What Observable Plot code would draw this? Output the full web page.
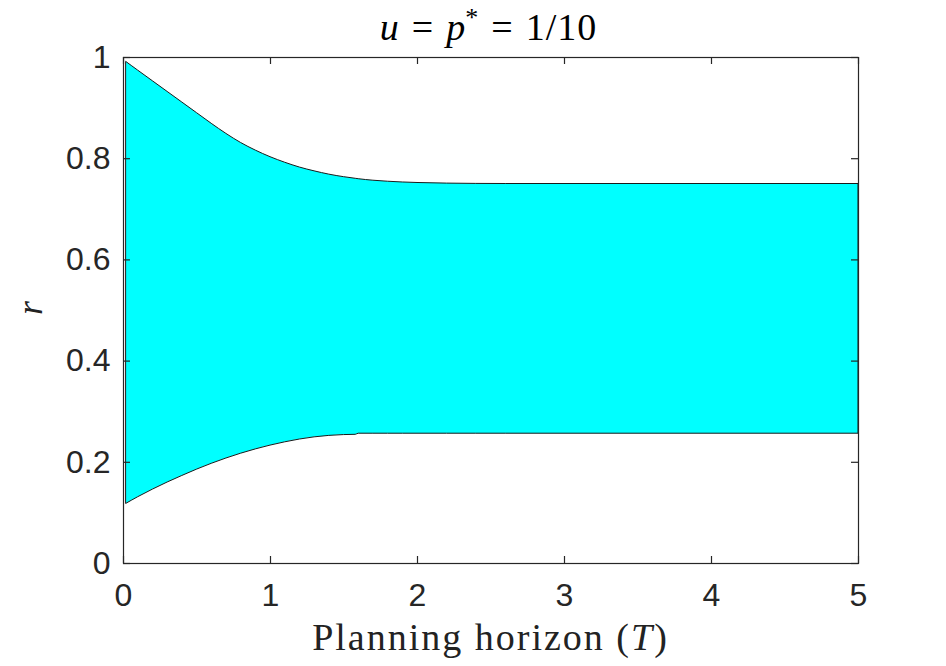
<!DOCTYPE html>
<html>
<head>
<meta charset="utf-8">
<script src="https://cdn.jsdelivr.net/npm/d3@7"></script>
<script src="https://cdn.jsdelivr.net/npm/@observablehq/plot@0.6"></script>
<style>
  html, body { margin: 0; padding: 0; background: #ffffff; }
  #chart { width: 946px; height: 666px; }
</style>
</head>
<body>
<div id="chart"></div>
<script>
// Planning horizon T and the boundaries of the shaded r region
const T     = [0.02, 0.1, 0.2, 0.3, 0.4, 0.5, 0.6, 0.7, 0.8, 0.9, 1.0, 1.1, 1.2, 1.3, 1.4, 1.5, 1.58, 1.6, 1.7, 1.8, 1.9, 2.0, 2.2, 2.4, 2.6, 5.0];
const upper = [0.991, 0.974, 0.953, 0.932, 0.911, 0.890, 0.869, 0.849, 0.831, 0.816, 0.803, 0.792, 0.7825, 0.775, 0.7685, 0.7635, 0.7603, 0.7595, 0.7565, 0.7545, 0.753, 0.752, 0.7508, 0.7502, 0.750, 0.750];
const lower = [0.118, 0.131, 0.146, 0.160, 0.173, 0.1855, 0.197, 0.2075, 0.217, 0.2255, 0.233, 0.2395, 0.245, 0.2493, 0.2522, 0.2538, 0.2543, 0.2565, 0.2565, 0.2565, 0.2565, 0.2565, 0.2565, 0.2565, 0.2565, 0.2565];

const xTicks = [0, 1, 2, 3, 4, 5];
const xTickLabels = ["0", "1", "2", "3", "4", "5"];
const yTicks = [0, 0.2, 0.4, 0.6, 0.8, 1];
const yTickLabels = ["0", "0.2", "0.4", "0.6", "0.8", "1"];

const data = T.map((t, i) => ({T: t, lo: lower[i], hi: upper[i]}));

const W = 946, H = 666;
const mL = 123, mR = 88, mT = 57, mB = 103;
const tick = 7;
const frameW = W - mL - mR, frameH = H - mT - mB;
const axisColor = "#262626";

const chart = Plot.plot({
  width: W, height: H,
  marginLeft: mL, marginRight: mR, marginTop: mT, marginBottom: mB,
  x: {domain: [0, 5]},
  y: {domain: [0, 1]},
  style: {fontFamily: "'Liberation Sans', Arial, Helvetica, sans-serif", color: axisColor, background: "#ffffff", overflow: "visible"},
  marks: [
    Plot.areaY(data, {x: "T", y1: "lo", y2: "hi", fill: "#00ffff", stroke: "#1a1a1a", strokeWidth: 1, curve: "monotone-x"}),
    Plot.frame({stroke: axisColor, strokeWidth: 1.2}),
    // inward ticks: bottom, top, left, right
    Plot.ruleX(xTicks, {x: d => d, insetTop: frameH - tick, stroke: axisColor, strokeWidth: 1.2}),
    Plot.ruleX(xTicks, {x: d => d, insetBottom: frameH - tick, stroke: axisColor, strokeWidth: 1.2}),
    Plot.ruleY(yTicks, {y: d => d, insetRight: frameW - tick, stroke: axisColor, strokeWidth: 1.2}),
    Plot.ruleY(yTicks, {y: d => d, insetLeft: frameW - tick, stroke: axisColor, strokeWidth: 1.2}),
    Plot.axisX(xTicks, {tickSize: 0, tickPadding: 20, fontSize: 32, tickFormat: d => xTickLabels[xTicks.indexOf(d)], label: null, fill: axisColor}),
    Plot.axisY(yTicks, {tickSize: 0, tickPadding: 13, fontSize: 32, tickFormat: d => yTickLabels[yTicks.indexOf(d)], label: null, fill: axisColor})
  ]
});

document.getElementById("chart").appendChild(chart);

const svg = d3.select(chart);
const serif = "'Liberation Serif', 'Times New Roman', serif";
const cx = mL + frameW / 2;

// Title: u = p* = 1/10
const title = svg.append("text")
  .attr("x", cx - 2).attr("y", 40)
  .attr("text-anchor", "middle")
  .attr("font-family", serif).attr("font-size", 38)
  .attr("fill", "#000");
title.append("tspan").attr("font-style", "italic").text("u");
title.append("tspan").attr("dx", 13).text("=");
title.append("tspan").attr("dx", 13).attr("font-style", "italic").text("p");
title.append("tspan").attr("dy", -14).attr("font-size", 26).text("*");
title.append("tspan").attr("dy", 14).attr("dx", 13).text("=");
title.append("tspan").attr("dx", 13).attr("letter-spacing", 1).text("1/10");

// X label
const xl = svg.append("text")
  .attr("x", cx).attr("y", 650)
  .attr("text-anchor", "middle")
  .attr("font-family", serif).attr("font-size", 38)
  .attr("letter-spacing", 2)
  .attr("fill", "#222");
xl.append("tspan").text("Planning horizon (");
xl.append("tspan").attr("font-style", "italic").text("T");
xl.append("tspan").text(")");

// Y label
svg.append("text")
  .attr("transform", `translate(42, ${mT + frameH / 2 - 2}) rotate(-90)`)
  .attr("text-anchor", "middle")
  .attr("font-family", serif).attr("font-size", 36)
  .attr("font-style", "italic")
  .attr("fill", "#222")
  .text("r");
</script>
</body>
</html>
